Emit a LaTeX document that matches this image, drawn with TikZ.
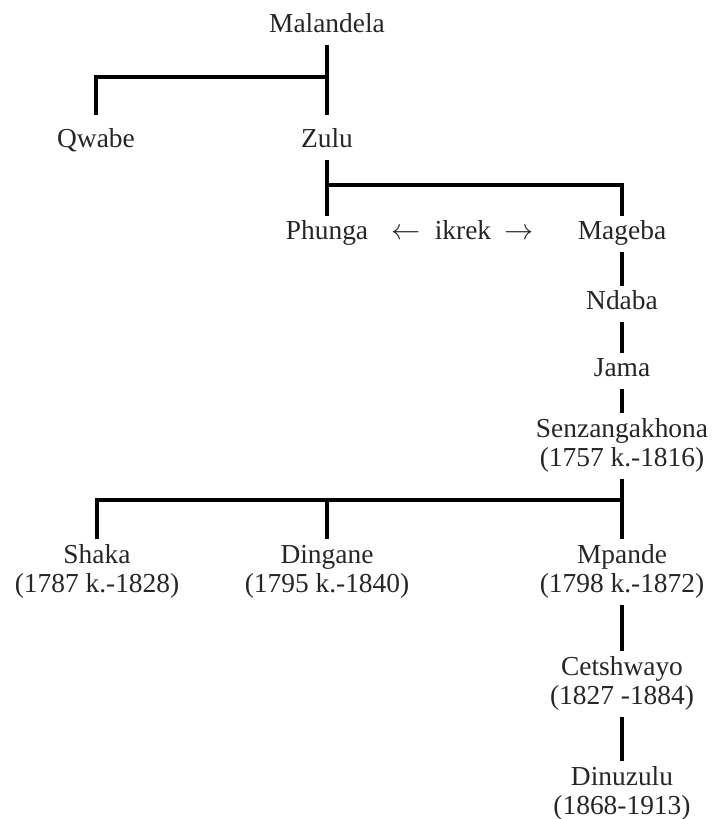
\documentclass[tikz,border=0pt]{standalone}
\usepackage{fontspec}
\setmainfont{Liberation Serif}
\usetikzlibrary{positioning}

\begin{document}
\begin{tikzpicture}[x=0.025cm, y=-0.025cm,
        person/.style={align=center, inner sep=2pt, text=black!85,
            font=\fontsize{19.5}{21}\selectfont},
        link/.style={line width=2.8pt}]
    \useasboundingbox (0,0) rectangle (715,819);

    % first generations
    \node[person] (mal) at (327, 27) {\strut Malandela};
    \node[person] (qwabe) at (96, 142) {\strut Qwabe};
    \node[person] (zulu) at (327, 142) {\strut Zulu};
    \node[person] (phunga) at (327, 234) {\strut Phunga};
    \node[person] (ikrek) at (463, 234) {\strut$\leftarrow$\hspace{0.5em}ikrek\hspace{0.5em}$\rightarrow$};
    \node[person] (mageba) at (622, 234) {\strut Mageba};
    \node[person] (ndaba) at (622, 304) {\strut Ndaba};
    \node[person] (jama) at (622, 371) {\strut Jama};
    \node[person] (senz) at (622, 446) {\strut Senzangakhona\\\strut(1757 k.-1816)};

    % sons of Senzangakhona
    \node[person] (shaka) at (97, 572) {\strut Shaka\\\strut(1787 k.-1828)};
    \node[person] (dingane) at (327, 572) {\strut Dingane\\\strut(1795 k.-1840)};
    \node[person] (mpande) at (622, 572) {\strut Mpande\\\strut(1798 k.-1872)};
    \node[person] (cets) at (622, 684) {\strut Cetshwayo\\\strut(1827 -1884)};
    \node[person] (dinu) at (622, 794) {\strut Dinuzulu\\\strut(1868-1913)};

    \coordinate (j1) at (327, 77);
    \coordinate (j2) at (327, 185);
    \coordinate (j3) at (622, 500);

    \draw[link, shorten >=0.225cm] (mal) -- (zulu);
    \draw[link, shorten <=0.225cm] (qwabe) |- (j1);
    \draw[link] (zulu) -- (phunga);
    \draw[link] (j2) -| (mageba);
    \draw[link] (mageba) -- (ndaba);
    \draw[link] (ndaba) -- (jama);
    \draw[link] (jama) -- (senz);
    \draw[link] (senz) -- (mpande);
    \draw[link] (shaka) |- (j3);
    \draw[link] (dingane) -- (dingane |- j3);
    \draw[link] (mpande) -- (cets);
    \draw[link] (cets) -- (dinu);
\end{tikzpicture}
\end{document}
